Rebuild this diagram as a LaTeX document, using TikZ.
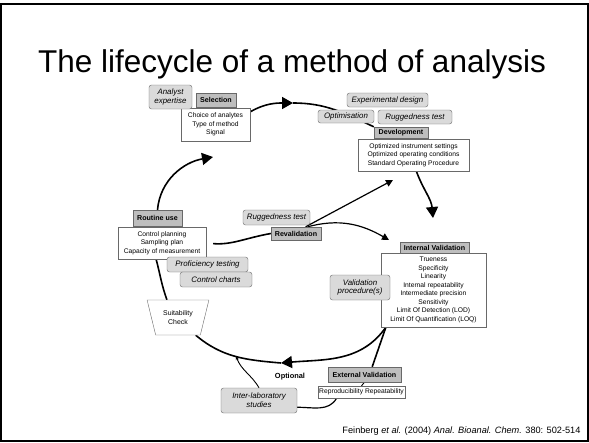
\documentclass[tikz,border=0pt]{standalone}
\usepackage{fontspec}
\setmainfont{Liberation Sans}
\usetikzlibrary{arrows.meta,shapes.geometric,backgrounds}
\definecolor{hdrgray}{RGB}{190,190,190}
\definecolor{notegray}{RGB}{218,218,218}
\definecolor{edgegray}{RGB}{105,105,105}
\begin{document}
\begin{tikzpicture}[x=1pt, y=1pt,
    hdr/.style={draw=edgegray, fill=hdrgray, inner sep=0pt, font=\fontsize{7.1}{7.5}\selectfont\bfseries},
    info/.style={draw=edgegray, fill=white, inner sep=0pt, align=center, font=\fontsize{6.7}{8.5}\selectfont},
    note/.style={draw=edgegray, fill=notegray, rounded corners=2.5pt, inner sep=0pt, align=center, font=\fontsize{7.9}{8.8}\selectfont\itshape},
    loopline/.style={line width=1.6pt},
    midline/.style={line width=1.2pt},
    thinline/.style={line width=0.9pt},
    bigtip/.style={-{Triangle[length=11pt,width=12pt]}},
    smalltip/.style={-{Triangle[length=7pt,width=7pt]}}]
        \useasboundingbox (0,0) rectangle (589,-442);
        \draw[line width=1.5pt] (1,-4) rectangle (588,-441);
        \node[font=\fontsize{31.5}{33}\selectfont] (title) at (292,-64) {The lifecycle of a method of analysis};
        \node[font=\fontsize{9.2}{10}\selectfont, anchor=east] (source) at (584,-431) {Feinberg \textit{et al.} (2004) \textit{Anal. Bioanal. Chem.} 380: 502-514};
        \node[info, minimum width=69pt, minimum height=33pt] (selcont) at (215.5,-124.5) {Choice of analytes\\Type of method\\Signal};
        \node[hdr, minimum width=40pt, minimum height=14pt] (selection) at (216,-100) {Selection};
        \node[note, minimum width=43pt, minimum height=24pt] (expertise) at (170.5,-97) {Analyst\\expertise};
        \node[note, minimum width=81pt, minimum height=14pt] (expdesign) at (387.5,-100) {Experimental design};
        \node[note, minimum width=56pt, minimum height=13pt] (optim) at (346,-116.5) {Optimisation};
        \node[note, minimum width=74pt, minimum height=14pt] (rugtop) at (415,-117) {Ruggedness test};
        \node[info, minimum width=111pt, minimum height=32pt] (devcont) at (413.5,-155) {Optimized instrument settings\\Optimized operating conditions\\Standard Operating Procedure};
        \node[hdr, minimum width=54pt, minimum height=11pt] (devel) at (401,-132.5) {Development};
        \node[info, minimum width=88pt, minimum height=32pt] (routcont) at (162,-243) {Control planning\\Sampling plan\\Capacity of measurement};
        \node[hdr, minimum width=49pt, minimum height=16pt] (routine) at (157.5,-218) {Routine use};
        \node[note, minimum width=81pt, minimum height=15pt] (profic) at (207.5,-264.5) {Proficiency testing};
        \node[note, minimum width=72pt, minimum height=15pt] (charts) at (216,-279.5) {Control charts};
        \node[note, minimum width=67pt, minimum height=15pt] (rugmid) at (276.5,-217.5) {Ruggedness test};
        \node[hdr, minimum width=50pt, minimum height=13pt] (reval) at (296,-233.5) {Revalidation};
        \node[info, minimum width=105pt, minimum height=74pt] (intcont) at (433.5,-290) {Trueness\\Specificity\\Linearity\\Internal repeatability\\Intermediate precision\\Sensitivity\\Limit Of Detection (LOD)\\Limit Of Quantification (LOQ)};
        \node[hdr, minimum width=69pt, minimum height=11pt] (intval) at (434.5,-247.5) {Internal Validation};
        \node[note, minimum width=60pt, minimum height=25pt] (valproc) at (360,-287.5) {Validation\\procedure(s)};
        \node[draw=edgegray, fill=white, trapezium, trapezium angle=67.5, shape border rotate=180, trapezium stretches=true, minimum width=62pt, minimum height=35pt, inner sep=0pt, align=center, font=\fontsize{6.9}{8.6}\selectfont] (suit) at (178,-317.5) {Suitability\\Check};
        \node[hdr, minimum width=73pt, minimum height=15pt] (extval) at (364.5,-374.5) {External Validation};
        \node[info, minimum width=87pt, minimum height=12pt] (extcont) at (361.5,-392) {Reproducibility Repeatability};
        \node[note, minimum width=76pt, minimum height=25pt] (interlab) at (259,-400.5) {Inter-laboratory\\studies};
        \node[font=\fontsize{7.4}{8}\selectfont\bfseries] (optional) at (290,-377) {Optional};
        \begin{scope}[on background layer]
        \coordinate (selarr) at (293,-103);
        \coordinate (rouarr) at (213,-157);
        \coordinate (dvarr) at (433,-218);
        \coordinate (optarr) at (281,-363);
        \coordinate (labarr) at (236,-356);
        \coordinate (devarr) at (393,-180);
        \coordinate (ivarr) at (389,-240);
        \draw[loopline, bigtip] (selcont.20) to[out=30,in=180] (selarr);
        \draw[loopline] (selarr) to[out=0,in=155] (devel.north west);
        \draw[loopline, bigtip] (devcont.-80) to[out=-70,in=95] (dvarr);
        \draw[loopline, bigtip] (intcont.-142) to[out=-125,in=5] (optarr);
        \draw[loopline] (optarr) to[out=175,in=-40] (suit.-45);
        \draw[loopline] (intcont.-142) -- (extval.45);
        \draw[loopline] (routcont.-110) to[out=-75,in=110] (suit.122);
        \draw[loopline, bigtip] (routine.north) to[out=85,in=190] (rouarr);
        \draw[loopline, shorten <=7pt] (routcont.east) to[out=-5,in=190] (reval.west);
        \draw[midline, smalltip] (reval.35) -- (devarr);
        \draw[midline, smalltip] (reval.30) to[out=15,in=150] (ivarr);
        \draw[thinline, -{Stealth[length=4pt,width=3pt]}] (interlab.north) to[out=120,in=-70] (labarr);
        \draw[midline] (interlab.-10) to[out=0,in=-120] (extcont.194);
        \draw[thinline] (extval.south) -- (extcont.north);
        \end{scope}
    \end{tikzpicture}
\end{document}
